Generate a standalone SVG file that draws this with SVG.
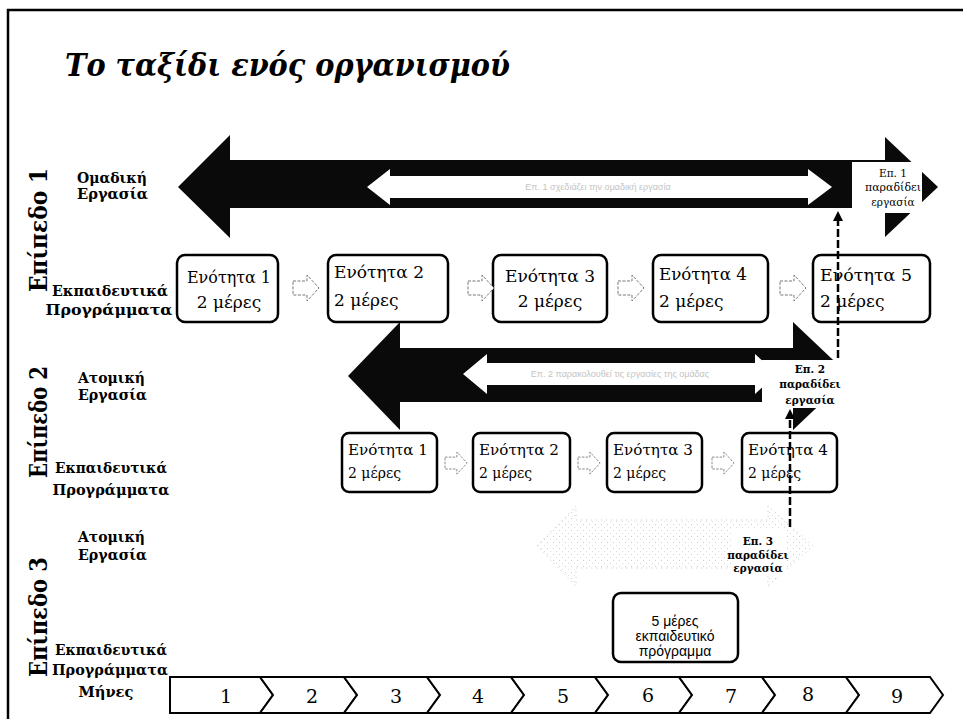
<svg xmlns="http://www.w3.org/2000/svg" width="963" height="719" viewBox="0 0 963 719">
<style>
.bg{fill:#fff}
.frame{stroke:#000;stroke-width:2.5;fill:none}
.title{font-family:"DejaVu Serif","Liberation Serif",serif;font-weight:bold;font-style:italic;font-size:31px;fill:#000}
.lvl{font-family:"DejaVu Serif","Liberation Serif",serif;font-weight:bold;font-size:25px;fill:#000}
.row{font-family:"DejaVu Serif","Liberation Serif",serif;font-weight:bold;font-size:14px;fill:#000}
.big{fill:#0a0a0a}
.inner{fill:#fff}
.ghost{fill:url(#dots);stroke:#c4c4c4;stroke-width:1;stroke-dasharray:1 4}
.box{fill:#fff;stroke:#000;stroke-width:2.5}
.t1{font-family:"DejaVu Serif","Liberation Serif",serif;font-size:17px;fill:#000}
.t2{font-family:"DejaVu Serif","Liberation Serif",serif;font-size:14px;fill:#000}
.t3{font-family:"Liberation Sans",Arial,sans-serif;font-size:14px;fill:#000}
.note{font-family:"DejaVu Serif","Liberation Serif",serif;font-size:10.5px;fill:#000}
.noteb{font-family:"DejaVu Serif","Liberation Serif",serif;font-weight:bold;font-size:10.5px;fill:#000}
.faint{font-family:"Liberation Sans",sans-serif;font-size:9px;fill:#c4c4c4}
.small{fill:#fff;stroke:#777;stroke-width:1;stroke-dasharray:3 1.5}
.dash{stroke:#000;stroke-width:2.5;stroke-dasharray:8 3;fill:none}
.chev{fill:#fff;stroke:#000;stroke-width:2}
.num{font-family:"DejaVu Serif","Liberation Serif",serif;font-size:19px;fill:#000}
</style>
<defs>
<pattern id="dots" width="6" height="6" patternUnits="userSpaceOnUse">
<rect x="1" y="2" width="1" height="1" fill="#cfcfcf"/>
<rect x="4" y="5" width="1" height="1" fill="#dcdcdc"/>
</pattern>
<path id="sa" d="M0,6 L14,6 L14,0 L26,13 L14,26 L14,20 L0,20 Z"/>
<marker id="ah" viewBox="0 0 10 10" refX="5" refY="5" markerWidth="4" markerHeight="4" orient="auto">
<path d="M0,0 L10,5 L0,10 Z" fill="#000"/>
</marker>
</defs>
<rect class="bg" x="0" y="0" width="963" height="719"/>
<path class="frame" d="M8,719 L8,10 L963,10"/>
<text class="title" x="65" y="76" textLength="445" lengthAdjust="spacingAndGlyphs">Το ταξίδι ενός οργανισμού</text>

<g id="level-labels">
<text class="lvl" transform="translate(47,230) rotate(-90)" text-anchor="middle" textLength="124" lengthAdjust="spacingAndGlyphs">Επίπεδο 1</text>
<text class="lvl" transform="translate(47,422) rotate(-90)" text-anchor="middle" textLength="112" lengthAdjust="spacingAndGlyphs">Επίπεδο 2</text>
<text class="lvl" transform="translate(47,617) rotate(-90)" text-anchor="middle" textLength="120" lengthAdjust="spacingAndGlyphs">Επίπεδο 3</text>
</g>

<g id="row-labels">
<text class="row" x="77" y="183" textLength="70" lengthAdjust="spacingAndGlyphs">Ομαδική</text>
<text class="row" x="77" y="199" textLength="71" lengthAdjust="spacingAndGlyphs">Εργασία</text>
<text class="row" x="110" y="296" text-anchor="middle" textLength="116" lengthAdjust="spacingAndGlyphs">Εκπαιδευτικά</text>
<text class="row" x="109" y="315" text-anchor="middle" textLength="127" lengthAdjust="spacingAndGlyphs">Προγράμματα</text>
<text class="row" x="78" y="383" textLength="67" lengthAdjust="spacingAndGlyphs">Ατομική</text>
<text class="row" x="78" y="400" textLength="69" lengthAdjust="spacingAndGlyphs">Εργασία</text>
<text class="row" x="111" y="473" text-anchor="middle" textLength="112" lengthAdjust="spacingAndGlyphs">Εκπαιδευτικά</text>
<text class="row" x="111" y="495" text-anchor="middle" textLength="117" lengthAdjust="spacingAndGlyphs">Προγράμματα</text>
<text class="row" x="78" y="542" textLength="67" lengthAdjust="spacingAndGlyphs">Ατομική</text>
<text class="row" x="78" y="560" textLength="69" lengthAdjust="spacingAndGlyphs">Εργασία</text>
<text class="row" x="111" y="655" text-anchor="middle" textLength="112" lengthAdjust="spacingAndGlyphs">Εκπαιδευτικά</text>
<text class="row" x="110" y="675" text-anchor="middle" textLength="116" lengthAdjust="spacingAndGlyphs">Προγράμματα</text>
<text class="row" x="106" y="697" text-anchor="middle" textLength="55" lengthAdjust="spacingAndGlyphs">Μήνες</text>
</g>

<g id="level1-arrow">
<path class="big" d="M178,187 L230,135 L230,160 L885,160 L885,137 L938,187 L885,237 L885,208 L230,208 L230,238 Z"/>
<path class="inner" d="M367,187 L390,169 L390,176 L808,176 L808,169 L832,187 L808,205 L808,198 L390,198 L390,205 Z"/>
<text class="faint" x="598" y="190" text-anchor="middle">Επ. 1 σχεδιάζει την ομαδική εργασία</text>
<rect fill="#fff" x="852" y="162" width="70" height="51"/>
<text class="note" x="893" y="177" text-anchor="middle">Επ. 1</text>
<text class="note" x="893" y="191" text-anchor="middle" textLength="56" lengthAdjust="spacingAndGlyphs">παραδίδει</text>
<text class="note" x="893" y="206" text-anchor="middle">εργασία</text>
</g>

<g id="level2-arrow">
<path class="big" d="M348,376 L400,322 L400,348 L793,348 L793,322 L850,376 L793,430 L793,402 L400,402 L400,430 Z"/>
<path class="inner" d="M463,374 L487,354 L487,363 L755,363 L755,354 L777,374 L755,394 L755,385 L487,385 L487,394 Z"/>
<text class="faint" x="620" y="377" text-anchor="middle">Επ. 2 παρακολουθεί τις εργασίες της ομάδας</text>
<rect fill="#fff" x="762" y="360" width="88" height="48"/>
<text class="noteb" x="810" y="373" text-anchor="middle">Επ. 2</text>
<text class="noteb" x="810" y="388" text-anchor="middle">παραδίδει</text>
<text class="noteb" x="810" y="404" text-anchor="middle">εργασία</text>
</g>

<g id="level3-arrow">
<path class="ghost" d="M537,546 L576,506 L576,520 L768,520 L768,506 L813,546 L768,586 L768,568 L576,568 L576,586 Z"/>
<rect fill="#fff" x="731" y="530" width="56" height="46"/>
<text class="noteb" x="758" y="545" text-anchor="middle">Επ. 3</text>
<text class="noteb" x="758" y="559" text-anchor="middle">παραδίδει</text>
<text class="noteb" x="758" y="572" text-anchor="middle">εργασία</text>
</g>

<g id="level1-units">
<g id="l1-u1"><rect class="box" x="177" y="255" width="101" height="67" rx="8"/><text class="t1" x="229" y="283" text-anchor="middle" textLength="84" lengthAdjust="spacingAndGlyphs">Ενότητα 1</text><text class="t1" x="229" y="308" text-anchor="middle">2 μέρες</text></g>
<g id="l1-u2"><rect class="box" x="328" y="255" width="120" height="67" rx="8"/><text class="t1" x="334" y="278" textLength="90" lengthAdjust="spacingAndGlyphs">Ενότητα 2</text><text class="t1" x="334" y="306">2 μέρες</text></g>
<g id="l1-u3"><rect class="box" x="493" y="255" width="114" height="67" rx="8"/><text class="t1" x="550" y="282" text-anchor="middle" textLength="90" lengthAdjust="spacingAndGlyphs">Ενότητα 3</text><text class="t1" x="550" y="307" text-anchor="middle">2 μέρες</text></g>
<g id="l1-u4"><rect class="box" x="653" y="255" width="115" height="67" rx="8"/><text class="t1" x="659" y="280" textLength="88" lengthAdjust="spacingAndGlyphs">Ενότητα 4</text><text class="t1" x="659" y="307">2 μέρες</text></g>
<g id="l1-u5"><rect class="box" x="813" y="255" width="117" height="67" rx="8"/><text class="t1" x="820" y="281" textLength="92" lengthAdjust="spacingAndGlyphs">Ενότητα 5</text><text class="t1" x="820" y="307">2 μέρες</text></g>
</g>

<g id="level2-units">
<g id="l2-u1"><rect class="box" x="342" y="433" width="95" height="59" rx="7"/><text class="t2" x="348" y="455" textLength="80" lengthAdjust="spacingAndGlyphs">Ενότητα 1</text><text class="t2" x="348" y="478">2 μέρες</text></g>
<g id="l2-u2"><rect class="box" x="473" y="433" width="97" height="59" rx="7"/><text class="t2" x="479" y="455" textLength="80" lengthAdjust="spacingAndGlyphs">Ενότητα 2</text><text class="t2" x="479" y="478">2 μέρες</text></g>
<g id="l2-u3"><rect class="box" x="607" y="433" width="95" height="59" rx="7"/><text class="t2" x="613" y="455" textLength="80" lengthAdjust="spacingAndGlyphs">Ενότητα 3</text><text class="t2" x="613" y="478">2 μέρες</text></g>
<g id="l2-u4"><rect class="box" x="742" y="433" width="95" height="59" rx="7"/><text class="t2" x="748" y="455" textLength="80" lengthAdjust="spacingAndGlyphs">Ενότητα 4</text><text class="t2" x="748" y="478">2 μέρες</text></g>
</g>

<g id="level3-unit">
<rect class="box" x="613" y="593" width="125" height="69" rx="8"/>
<text class="t3" x="675" y="626" text-anchor="middle">5 μέρες</text>
<text class="t3" x="675" y="641" text-anchor="middle">εκπαιδευτικό</text>
<text class="t3" x="675" y="656" text-anchor="middle">πρόγραμμα</text>
</g>

<g id="connectors">
<use href="#sa" class="small" x="293" y="275"/>
<use href="#sa" class="small" x="468" y="275"/>
<use href="#sa" class="small" x="618" y="275"/>
<use href="#sa" class="small" x="780" y="275"/>
<use href="#sa" class="small" transform="translate(445,452) scale(0.85)"/>
<use href="#sa" class="small" transform="translate(578,452) scale(0.85)"/>
<use href="#sa" class="small" transform="translate(712,452) scale(0.85)"/>
<path class="dash" d="M838,358 L838,216" marker-end="url(#ah)"/>
<path class="dash" d="M790,527 L790,414" marker-end="url(#ah)"/>
</g>

<g id="months">
<path class="chev" d="M170,677 L260,677 L273,695 L260,713 L170,713 Z"/>
<path class="chev" d="M260,677 L344,677 L357,695 L344,713 L260,713 L273,695 Z"/>
<path class="chev" d="M344,677 L427,677 L440,695 L427,713 L344,713 L357,695 Z"/>
<path class="chev" d="M427,677 L511,677 L524,695 L511,713 L427,713 L440,695 Z"/>
<path class="chev" d="M511,677 L595,677 L608,695 L595,713 L511,713 L524,695 Z"/>
<path class="chev" d="M595,677 L679,677 L692,695 L679,713 L595,713 L608,695 Z"/>
<path class="chev" d="M679,677 L762,677 L775,695 L762,713 L679,713 L692,695 Z"/>
<path class="chev" d="M762,677 L846,677 L859,695 L846,713 L762,713 L775,695 Z"/>
<path class="chev" d="M846,677 L930,677 L943,695 L930,713 L846,713 L859,695 Z"/>
<text class="num" x="226" y="703" text-anchor="middle">1</text>
<text class="num" x="312" y="703" text-anchor="middle">2</text>
<text class="num" x="396" y="703" text-anchor="middle">3</text>
<text class="num" x="478" y="703" text-anchor="middle">4</text>
<text class="num" x="563" y="703" text-anchor="middle">5</text>
<text class="num" x="648" y="702" text-anchor="middle">6</text>
<text class="num" x="731" y="703" text-anchor="middle">7</text>
<text class="num" x="808" y="701" text-anchor="middle">8</text>
<text class="num" x="897" y="703" text-anchor="middle">9</text>
</g>
</svg>
